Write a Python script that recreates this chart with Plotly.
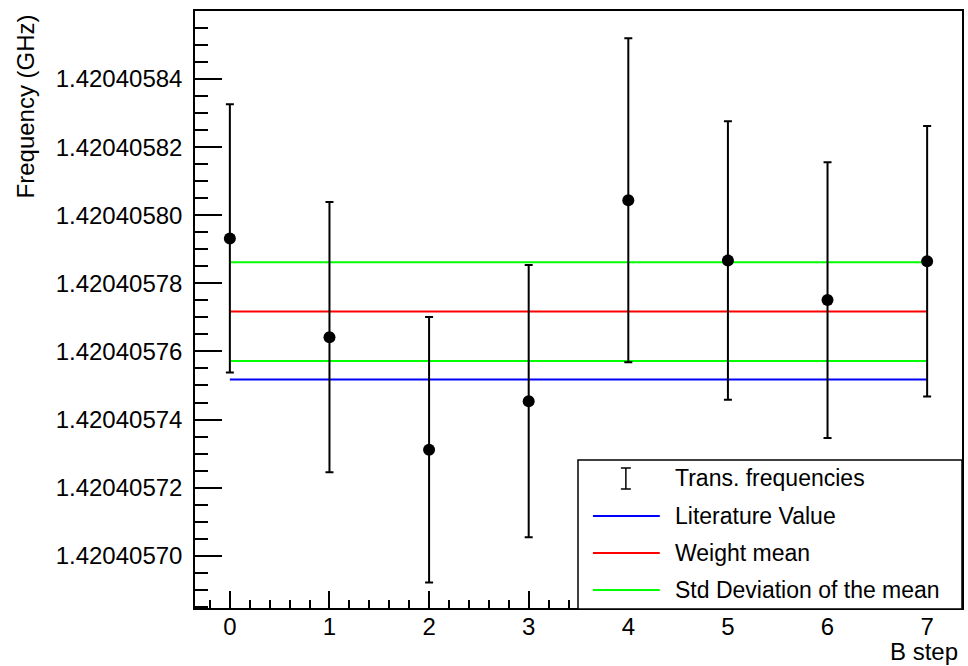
import plotly.graph_objects as go

# Measured hydrogen hyperfine transition frequencies per magnetic field step
b_step = [0, 1, 2, 3, 4, 5, 6, 7]
freq_ghz = [1.4204057932, 1.4204057642, 1.4204057311, 1.4204057454,
            1.4204058044, 1.4204057867, 1.4204057751, 1.4204057865]
freq_err = [3.94e-8, 3.97e-8, 3.90e-8, 4.00e-8,
            4.76e-8, 4.09e-8, 4.05e-8, 3.97e-8]

# Reference values drawn as horizontal lines across the steps
line_x = [0, 7]
literature_value = 1.420405751768
weighted_mean = 1.4204057717
std_of_mean = 1.45e-8

legend_labels = ["Trans. frequencies", "Literature Value",
                 "Weight mean", "Std Deviation of the mean"]

W, H = 968, 666
L, R, T, B = 195, 4, 11, 58
FONT = "Liberation Sans, Arial, Helvetica, sans-serif"


def px_x(px):
    return (px - L) / (W - L - R)


def px_y(py):
    return (H - B - py) / (H - T - B)


fig = go.Figure()

# Horizontal reference lines
fig.add_trace(go.Scatter(x=line_x, y=[weighted_mean + std_of_mean] * 2, mode="lines",
                         line=dict(color="#00ff00", width=2), hoverinfo="skip"))
fig.add_trace(go.Scatter(x=line_x, y=[weighted_mean] * 2, mode="lines",
                         line=dict(color="#ff0000", width=2), hoverinfo="skip"))
fig.add_trace(go.Scatter(x=line_x, y=[weighted_mean - std_of_mean] * 2, mode="lines",
                         line=dict(color="#00ff00", width=2), hoverinfo="skip"))
fig.add_trace(go.Scatter(x=line_x, y=[literature_value] * 2, mode="lines",
                         line=dict(color="#0000ff", width=2), hoverinfo="skip"))

# Data points with error bars
fig.add_trace(go.Scatter(
    x=b_step, y=freq_ghz, mode="markers",
    marker=dict(color="black", size=12, symbol="circle"),
    error_y=dict(type="data", array=freq_err, visible=True,
                 color="black", thickness=2, width=4),
))

fig.update_layout(
    width=W, height=H,
    margin=dict(l=L, r=R, t=T, b=B, pad=0),
    paper_bgcolor="white", plot_bgcolor="white",
    showlegend=False,
    font=dict(family=FONT, size=24, color="black"),
    xaxis=dict(
        range=[-0.35, 7.35], tickmode="linear", tick0=0, dtick=1,
        ticks="inside", ticklen=17, tickwidth=1.5, tickcolor="black",
        showline=True, mirror=True, linecolor="black", linewidth=1.5,
        showgrid=False, zeroline=False,
        tickfont=dict(family=FONT, size=24, color="black"),
        ticklabelstandoff=-4,
        minor=dict(ticks="inside", ticklen=8, tickwidth=1.5, tickcolor="black",
                   tick0=0, dtick=0.2, showgrid=False),
    ),
    yaxis=dict(
        range=[1.42040568464, 1.42040586], tickmode="linear",
        tick0=1.42040570, dtick=2e-8, tickformat=".8f",
        ticks="inside", ticklen=27, tickwidth=1.5, tickcolor="black",
        showline=True, mirror=True, linecolor="black", linewidth=1.5,
        showgrid=False, zeroline=False,
        tickfont=dict(family=FONT, size=24, color="black"),
        ticklabelstandoff=6,
        minor=dict(ticks="inside", ticklen=13, tickwidth=1.5, tickcolor="black",
                   tick0=1.42040570, dtick=0.5e-8, showgrid=False),
    ),
)

shapes = []
annotations = []

# Legend box
shapes.append(dict(type="rect", xref="paper", yref="paper",
                   x0=px_x(579), x1=px_x(964), y0=px_y(609), y1=px_y(460),
                   line=dict(color="black", width=1.5), fillcolor="white", layer="above"))

# Error-bar symbol for the data entry
ex, ey0, ey1 = 627, 468, 489
shapes.append(dict(type="line", xref="paper", yref="paper",
                   x0=px_x(ex), x1=px_x(ex), y0=px_y(ey0), y1=px_y(ey1),
                   line=dict(color="black", width=1.5), layer="above"))
for cy in (ey0, ey1):
    shapes.append(dict(type="line", xref="paper", yref="paper",
                       x0=px_x(ex - 5), x1=px_x(ex + 5), y0=px_y(cy), y1=px_y(cy),
                       line=dict(color="black", width=1.5), layer="above"))

# Line symbols for the reference values
entry_y = [478, 516, 553, 590]
for yy, col in zip(entry_y[1:], ["#0000ff", "#ff0000", "#00ff00"]):
    shapes.append(dict(type="line", xref="paper", yref="paper",
                       x0=px_x(594), x1=px_x(661), y0=px_y(yy), y1=px_y(yy),
                       line=dict(color=col, width=2), layer="above"))

for yy, label in zip(entry_y, legend_labels):
    annotations.append(dict(text=label, xref="paper", yref="paper",
                            x=px_x(674), y=px_y(yy), xanchor="left", yanchor="middle",
                            showarrow=False, font=dict(family=FONT, size=23, color="black")))

# Axis titles
annotations.append(dict(text="B step", xref="paper", yref="paper",
                        x=px_x(962), y=px_y(651), xanchor="right", yanchor="middle",
                        showarrow=False, font=dict(family=FONT, size=24, color="black")))
annotations.append(dict(text="Frequency (GHz)", xref="paper", yref="paper",
                        x=px_x(25), y=px_y(12), xanchor="center", yanchor="top",
                        textangle=-90, showarrow=False,
                        font=dict(family=FONT, size=24, color="black")))

fig.update_layout(shapes=shapes, annotations=annotations)

fig.write_html("out.html")
